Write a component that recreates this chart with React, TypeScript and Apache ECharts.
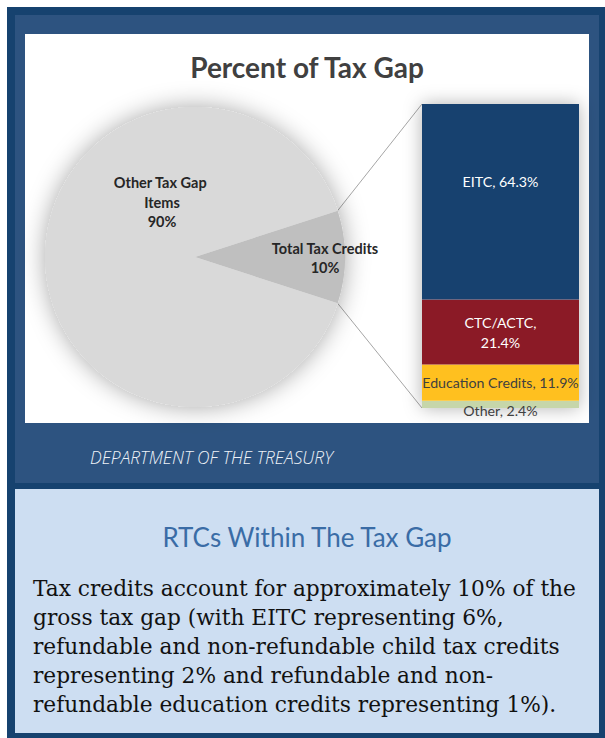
import React, { useEffect, useRef } from 'react';
import * as echarts from 'echarts';

const PIE_NAMES = ['Total Tax Credits', 'Other Tax Gap Items'];
const PIE_VALUES = [10, 90];
const PIE_COLORS = ['#BFBFBF', '#D9D9D9'];
const BAR_NAMES = ['EITC', 'CTC/ACTC', 'Education Credits', 'Other'];
const BAR_VALUES = [64.3, 21.4, 11.9, 2.4];
const BAR_COLORS = ['#17416F', '#8B1A26', '#FFC01F', '#C6D6AA'];
const TITLE = 'Percent of Tax Gap';
const SOURCE = 'DEPARTMENT OF THE TREASURY';
const BOX_TITLE = 'RTCs Within The Tax Gap';
const BODY_LINES = [
  'Tax credits account for approximately 10% of the',
  'gross tax gap (with EITC representing 6%,',
  'refundable and non-refundable child tax credits',
  'representing 2% and refundable and non-',
  'refundable education credits representing 1%).',
];

export default function App() {
  const ref = useRef<HTMLDivElement>(null);
  useEffect(() => {
    const chart = echarts.init(ref.current!, null, { renderer: 'svg' });
    const cx = 195, cy = 257, r = 150;
    const grid = { left: 422, top: 104, width: 157, height: 304 };
    const pieSum = PIE_VALUES.reduce((a, b) => a + b, 0);
    const barSum = BAR_VALUES.reduce((a, b) => a + b, 0);
    const halfDeg = (PIE_VALUES[0] / pieSum) * 180;
    const half = (halfDeg * Math.PI) / 180;
    const ex = cx + r * Math.cos(half);
    const uy = cy - r * Math.sin(half);
    const ly = cy + r * Math.sin(half);

    const barLabels: any[] = [
      { show: true, position: 'inside', color: '#FFFFFF', formatter: '{a}, {c}%', offset: [0, -20] },
      { show: true, position: 'inside', color: '#FFFFFF', formatter: '{a},\n{c}%', lineHeight: 20 },
      { show: true, position: 'inside', color: '#404040', formatter: '{a}, {c}%' },
      { show: true, position: 'inside', color: '#404040', formatter: '{a}, {c}%', offset: [0, 6] },
    ];

    const stacked = BAR_NAMES.map((name, i) => ({
      type: 'bar',
      name,
      stack: 'credits',
      data: [BAR_VALUES[i]],
      barWidth: '100%',
      barGap: '-100%',
      itemStyle: { color: BAR_COLORS[i] },
      label: { ...barLabels[i], fontFamily: 'Lato', fontSize: 14.2 },
      z: 3,
    })).reverse();

    const lineStyle = { stroke: '#A6A6A6', lineWidth: 1 };

    chart.setOption({
      animation: false,
      grid: { ...grid },
      xAxis: { type: 'category', data: ['Total Tax Credits'], show: false },
      yAxis: { type: 'value', min: 0, max: barSum, show: false },
      series: [
        {
          type: 'pie',
          silent: true,
          center: [cx, cy],
          radius: r,
          label: { show: false },
          data: [{ value: pieSum, name: 'shadow' }],
          itemStyle: { color: '#D9D9D9', shadowBlur: 24, shadowColor: 'rgba(0,0,0,0.35)' },
          z: 1,
        },
        {
          type: 'pie',
          center: [cx, cy],
          radius: r,
          startAngle: halfDeg,
          clockwise: true,
          data: PIE_NAMES.map((name, i) => ({
            name,
            value: PIE_VALUES[i],
            itemStyle: { color: PIE_COLORS[i] },
            label: { width: i === 0 ? 150 : 105 },
          })),
          label: {
            show: true,
            position: 'inside',
            color: '#262626',
            fontFamily: 'Lato',
            fontWeight: 'bold',
            fontSize: 14.5,
            lineHeight: 19.5,
            overflow: 'break',
            formatter: (p: any) => `${p.name}\n${p.value}%`,
          },
          labelLine: { show: false },
          labelLayout: (p: any) => (p.dataIndex === 0 ? { dx: 52, dy: 1 } : { dx: 45, dy: -55 }),
          z: 2,
        },
        {
          type: 'bar',
          name: 'backdrop',
          silent: true,
          data: [barSum],
          barWidth: '100%',
          itemStyle: { color: '#FFFFFF', shadowBlur: 18, shadowColor: 'rgba(0,0,0,0.3)' },
          z: 1,
        },
        ...stacked,
      ],
      graphic: [
        { type: 'rect', z: -10, shape: { x: 7, y: 7, width: 598, height: 731 }, style: { fill: '#16426F' } },
        { type: 'rect', z: -9, shape: { x: 15, y: 15, width: 584, height: 468 }, style: { fill: '#2D5380' } },
        { type: 'rect', z: -8, shape: { x: 25, y: 34, width: 564, height: 389 }, style: { fill: '#FFFFFF' } },
        { type: 'rect', z: -9, shape: { x: 15, y: 489, width: 584, height: 244 }, style: { fill: '#CDDEF2' } },
        { type: 'line', z: 0, shape: { x1: ex, y1: uy, x2: grid.left, y2: grid.top }, style: lineStyle },
        { type: 'line', z: 0, shape: { x1: ex, y1: ly, x2: grid.left, y2: grid.top + grid.height }, style: lineStyle },
        {
          type: 'text', z: 10, x: 307, y: 67,
          style: { text: TITLE, fill: '#404040', font: 'bold 28px Lato', textAlign: 'center', textVerticalAlign: 'middle' },
        },
        {
          type: 'text', z: 10, x: 90, y: 457,
          style: { text: SOURCE, fill: '#EEF2F8', font: 'italic 300 17.4px "Open Sans"', textAlign: 'left', textVerticalAlign: 'middle' },
        },
        {
          type: 'text', z: 10, x: 307, y: 537,
          style: { text: BOX_TITLE, fill: '#3A6CA6', font: '26px Lato', textAlign: 'center', textVerticalAlign: 'middle' },
        },
        ...BODY_LINES.map((t, i) => ({
          type: 'text', z: 10, x: 33, y: 588 + i * 29.2,
          style: { text: t, fill: '#111111', font: '21.7px "DejaVu Serif"', textAlign: 'left', textVerticalAlign: 'middle' },
        })),
      ],
    });
    return () => chart.dispose();
  }, []);
  return <div ref={ref} style={{ position: 'absolute', left: 0, top: 0, width: 605, height: 738 }} />;
}
